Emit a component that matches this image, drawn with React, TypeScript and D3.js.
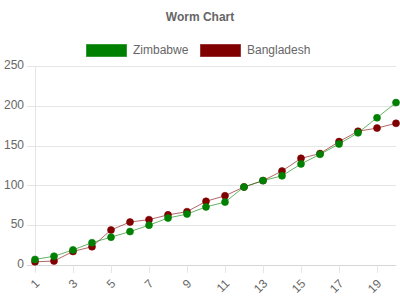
import React from "react";
import * as d3 from "d3";

const overs = d3.range(1, 21).map(String);
const zimbabwe = [7, 11, 19, 28, 35, 42, 50, 59, 64, 73, 79, 98, 106, 112, 127, 139, 152, 166, 185, 204];
const bangladesh = [4, 5, 17, 23, 44, 54, 57, 63, 67, 80, 87, 98, 106, 118, 134, 140, 155, 168, 172, 178];
const yTicks = [0, 50, 100, 150, 200, 250];
const seriesNames = ["Zimbabwe", "Bangladesh"];

const W = 400, H = 300;
const left = 35, right = 396, top = 66, bottom = 265;
const font = "'Liberation Sans', Arial, Helvetica, sans-serif";
const txt = "#666";
const grid = "#e5e5e5";

const series = [
  { name: seriesNames[0], values: zimbabwe, fill: "#008000", stroke: "rgba(0,128,0,0.6)" },
  { name: seriesNames[1], values: bangladesh, fill: "#800000", stroke: "rgba(128,0,0,0.6)" },
];

export default function App() {
  const x = d3.scalePoint<string>().domain(overs).range([left, right]);
  const y = d3.scaleLinear().domain([0, 250]).range([bottom, top]);
  const line = d3.line<number>().x((_, i) => x(overs[i])!).y((d) => y(d));

  const legendItems = [
    { box: 86, text: 133 },
    { box: 200, text: 247 },
  ];

  return (
    <svg width={W} height={H} style={{ position: "absolute", left: 0, top: 0 }} fontFamily={font}>
      <rect width={W} height={H} fill="#fff" />
      <text x={200} y={21} textAnchor="middle" fontSize={12} fontWeight="bold" fill={txt}>Worm Chart</text>
      {series.map((s, i) => (
        <g key={s.name}>
          <rect x={legendItems[i].box + 0.5} y={44.5} width={40} height={12} fill={s.fill} stroke={s.stroke} strokeWidth={1} />
          <text x={legendItems[i].text} y={50.5} dominantBaseline="middle" fontSize={12} fill={txt}>{s.name}</text>
        </g>
      ))}
      {yTicks.map((t) => (
        <g key={t}>
          <line x1={27} x2={right} y1={Math.round(y(t)) + 0.5} y2={Math.round(y(t)) + 0.5} stroke={t === 0 ? "#d6d6d6" : grid} strokeWidth={1} />
          <text x={24} y={y(t)} textAnchor="end" dominantBaseline="middle" fontSize={12} fill={txt}>{t}</text>
        </g>
      ))}
      <line x1={left + 0.5} x2={left + 0.5} y1={top} y2={bottom} stroke={grid} />
      {overs.map((o, i) => (i % 2 === 0 ? (
        <g key={o}>
          <line x1={Math.round(x(o)!) + 0.5} x2={Math.round(x(o)!) + 0.5} y1={bottom} y2={bottom + 8} stroke={grid} />
          <text transform={`translate(${x(o)! + 3},${bottom + 17}) rotate(-45)`} textAnchor="end" dominantBaseline="middle" fontSize={12} fill={txt}>{o}</text>
        </g>
      ) : null))}
      {series.slice().reverse().map((s) => (
        <g key={s.name}>
          <path d={line(s.values)!} fill="none" stroke={s.stroke} strokeWidth={1} />
          {s.values.map((v, i) => (
            <circle key={i} cx={x(overs[i])!} cy={y(v)} r={3.5} fill={s.fill} stroke={s.stroke} strokeWidth={1} />
          ))}
        </g>
      ))}
    </svg>
  );
}
